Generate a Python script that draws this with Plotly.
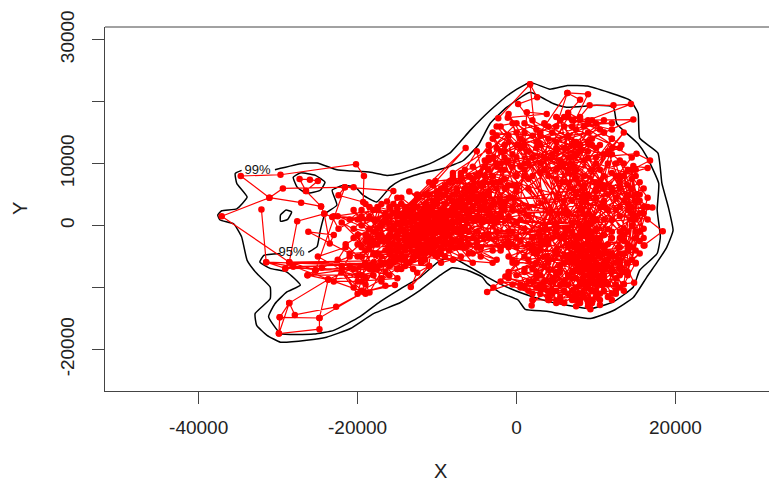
import plotly.graph_objects as go

FONT = "Liberation Sans, Arial, sans-serif"

# 99% home-range contour (open at its label)
outer_x = [-30400,-27000,-25100,-22600,-20700,-18400,-16300,-14700,-10900,-8400,-5800,-3300,-800,1700,4200,6400,8900,14300,15300,15500,17800,18300,19100,19700,18900,17700,16400,14700,12200,9300,6700,3800,1100,200,-2100,-3700,-4300,-6200,-8100,-9600,-12100,-14600,-18000,-20900,-23900,-26400,-29700,-31400,-32700,-32900,-31000,-31000,-32700,-33900,-34600,-35600,-37300,-37600,-37100,-35200,-33900,-35200,-35400,-34600]
outer_y = [9000,10000,10100,9000,8800,8600,8100,8400,10000,11700,15400,18600,21300,23100,22000,22600,22500,20200,18100,14100,11700,6800,3000,-800,-3500,-5900,-8300,-11600,-13700,-15000,-14500,-13800,-13500,-12000,-10800,-9300,-8300,-7200,-6800,-8000,-10400,-12400,-14200,-16600,-18000,-18500,-18800,-17700,-16100,-14200,-11800,-9900,-7700,-5600,-1800,300,900,1700,2400,2700,4600,6800,8400,8900]

# 95% home-range contour (open at its label)
inner_x = [-26200,-25100,-24700,-24100,-22600,-23200,-21800,-20300,-19300,-17600,-15900,-14600,-12100,-9200,-6700,-4800,-3300,-1200,1700,4600,6300,10100,12200,12600,13400,15300,16400,17900,17700,18100,17700,15500,14700,12200,9300,4200,900,-2100,-3700,-7900,-9600,-12100,-14600,-17200,-19700,-23000,-25500,-29700,-31200,-30400,-28900,-27200,-28900,-31000,-32300,-31800,-29700]
inner_y = [-4300,-3400,-800,1900,3300,5700,6500,6200,4900,3800,6200,7300,8400,9200,10500,13000,16500,19100,21500,19700,19100,19400,19100,16500,15400,13200,11100,6800,2500,-1800,-4500,-7200,-9900,-12300,-13400,-12300,-11000,-9400,-8300,-5300,-5600,-8300,-10200,-12300,-14700,-16900,-17500,-17400,-14700,-12600,-10700,-9600,-7500,-6900,-5900,-4800,-4500]

island_x = [-28100,-27200,-25300,-24100,-24700,-26400,-27600,-28100]
island_y = [7800,8500,8100,7000,5700,5200,6200,7800]
hole_x = [-29700,-29000,-28300,-28800,-29700,-29700]
hole_y = [1700,2500,2200,1000,700,1700]

# relocation track, west end
west_x = [-32100,-31500,-25300,-28600,-37100,-31100,-34700,-29700,-20200,-19200,-19300,-22400,-21600,-20500,-29400,-31100,-27100,-24600,-26500,-27300,-26000,-25000,-26500,-24600,-24200,-27600,-28600,-28100,-29100,-31500,-18000,-26200,-23000,-23500,-24200,-23200,-22400,-16300,-15500,-21600,-25300,-26300,-23700,-28600,-29900,-29800,-28600,-27900,-22700,-19200,-23700,-24800,-24800,-29900,-29800,-24800,-19200,-16500,-15300,-19200]
west_y = [2600,-5900,-7200,-5900,1500,4500,8000,8200,9900,8000,3800,4900,6200,6200,6000,4500,3700,3100,5600,7500,7400,7200,5600,3100,1900,700,-5900,-6600,-6900,-5900,-6500,-1000,-1500,-2900,1900,1400,-500,3900,5600,6200,-7200,-8000,-8700,-12500,-17400,-14800,-12500,-14400,-13100,-10700,-8700,-14900,-16700,-17400,-14800,-14900,-10700,-9700,-9600,-10700]

west2_x = [-28100,-16000,-28600,-14000,-29100,-15000,-25300,-17000,-26300,-18000,-23700,-19000,-22000,-20000,-24500,-21000,-23000,-19500,-25000,-21500,-22500,-20500,-19000,-22000,-20000]
west2_y = [-6600,-6200,-5900,-5600,-6900,-7000,-7200,-6300,-8000,-8000,-8700,-6000,-6500,-8000,-6800,-5000,-9000,-9000,-5000,-3500,-5500,-10000,-11000,-7500,-11000]

west3_x = [-17000,-19500,-15000,-18000,-20500,-16000,-14500,-19000,-17500,-20000,-15500,-18500,-16500,-14000,-19500,-17000,-15000,-20500,-18000,-16000,-14500,-19000,-15500,-17500,-20000,-16500,-18500,-14000,-19500,-15000]
west3_y = [3500,0,3000,-2500,2500,-3500,500,3500,-1500,-3000,3500,-500,2000,-1000,1500,0,-2000,-500,2500,1500,-3500,-1500,-500,1000,1000,-2500,3000,1500,-3500,4500]

# relocation track, neck of the range
neck_x = [-19000,-12000,-17500,-8000,-15500,-6000,-18000,-10500,-14000,-4500,-16500,-9000,-13000,-7000,-11500,
          -19500,-13500,-6500,-16000,-11000,-3500,-17000,-12500,-8500,-14500,-5500,-18500,-10000,-15000,-7500,
          -16500,-9500,-14000,-2500,-12000,-17500,-6500,-13000,-10500,-19000,-5000,-15500,-8000,-11500,-3000,
          -18000,-7000,-14500,-9000,-16000,-4000,-12500,-11000,-17000,-6000,-13500,-8500,-15000,-10000,-2000,
          -11500,-18500,-9500,-13000,-5500,-16500,-7500,-14000,-3500,-12000,-17500,-10500,-15500,-8000,-19500,
          -13000,-6500,-15000,-9000,-11500,-4500,-16000,-10000,-7000,-14500,-12500,-5500,-17000,-8500,-13500,
          -10500,-15500,-12000,-8000,-18000,-6000,-13000,-9500,-16500,-11000,-7500,-14000,-4000,-12500,-9000,
          -21500,-20000,-18500,-17000,-20500,-19000,-21000,-16000,-19500,-18000,-20000,-17500,-21000,-15500,-18500,
          -19000,-17000,-20500,-16000,-22500,-18000,-19500,-21000,-16500,-23000,-17500,-20000,-15000,-22000,-18500,
          -11000,-12500,-13300,-11000,-10200,-14000,-6400,-13000]
neck_y = [-6500,1500,-3000,4000,-5000,5500,-1000,-4000,2500,6500,-7500,1000,-2000,-3500,3500,
          -8000,-6000,3000,-500,5000,2000,-8500,0,-1500,4500,-4500,1500,-2500,-7000,6000,
          1000,2500,-3500,7000,-5500,3000,-500,3500,6500,-2500,1000,-6000,-2500,500,-6000,
          -4500,7500,1500,-5000,3000,4000,-1000,-6500,-6000,-3000,5500,2000,-1500,3500,-3500,
          -3000,-3500,5000,1000,-2000,-4000,1500,-4000,9000,2000,-7000,-500,2000,8000,-5000,
          -5000,6000,-3500,3500,-1500,3000,-6500,1000,-5000,-500,4500,-6000,-1500,-4000,2500,
          -2000,0,-6000,500,-6000,1500,-500,-3500,-2500,2500,-1000,-6500,-1500,-3000,6500,
          -3000,-5000,-3000,-9000,-7000,-8500,-6500,-8000,-10500,-7000,-1500,-500,-4500,-4000,-10800,
          -9500,-5000,-2000,-2000,1500,1000,2500,1000,500,1500,2500,-9000,-8500,500,-2000,
          -6500,-7600,-9900,-6500,7200,3000,12500,3000]

neck2_x = [-16000,-4000,-14500,-2500,-12000,-6000,-15000,-3500,-13000,-5000,-11000,-1500,-9500,-16500,-7000,
           -12500,-3000,-10000,-5500,-8000,-14000,-2000,-11000,-7500,-15500,-4500,-9000,-13500,-1000,-6500,
           -10000,-17000,-7000,-12000,-4000,-9000,-14500,-3000,-11500,-6000,-13000,-2500,-8500,-16000,-5000,
           -15000,-9500,-13500,-7000,-12000,-3500,-16500,-8000,-10500,-4500,-14000,-6000,-11000,-2000,-12500,
           -18000,-14000,-16500,-12000,-17500,-10500,-15000,-11500,-19000,-13000,-16000,-9000,-18500,-11000,-14500,
           -8000,-13500,-9500,-11000,-6500,-12500,-7500,-10000,-5500,-13000,-8500,-11500,-3000,-10500,-7000,
           -13500,-12000,-14500,-10000,-15000,-11000,-16000,-9000,-13000,-7500,-12500,-8500,-14000,-9500,-11500]
neck2_y = [-1500,9500,-4500,6000,-3500,2500,1500,-1500,-5500,8000,7000,-3000,-6000,1000,-2500,
           3000,11000,-1000,5500,-3500,500,9000,-2500,3500,-3000,-3500,5000,-1500,-1000,-3500,
           -5000,-2500,1000,-1000,7000,-500,-5500,3500,5000,8000,1500,-5500,-3000,-4500,4500,
           -1000,6000,-3000,4500,-4500,5000,-2500,-5500,3000,1000,2000,-1000,500,1500,-2000,
           -3000,-1500,-6000,-500,-4500,-3000,-5500,-4500,-4000,-7000,-3000,-2000,-7000,-3500,-7000,
           3000,-2500,-4500,1500,5000,-4000,-3500,2000,3000,-1500,4500,-5500,1000,4000,7500,
           500,-3000,3500,-4500,2500,-1000,500,-3000,2500,-2500,1500,-500,-2500,1500,1500]

# relocation track, between neck and lobe
mid_x = [-8000,-2000,-6000,0,-4000,-7000,1000,-3000,-5000,-1000,-8500,-2500,-6500,500,-3500,
         -5500,-500,-7500,-1500,-4500,-9000,-2000,-6000,1500,-3000,-8000,-1000,-5000,0,-7000,
         -4000,-6500,-1500,-8500,-3500,-500,-5500,-2500,-7500,1000,-4500,-1000,-6000,-2000,-3000,
         -5000,-7000,-500,-4000,-2500,-6000,-1000,-8000,-3500,-1500,-5500,0,-4500,-7000,-2000,
         -3000,-5000,-1000,-6500,-2500,-4000,-9000,-1500,-5500,-3500,-7500,-500,-6000,-2000,-4500]
mid_y = [2000,4000,6000,-2000,1000,8500,8000,-4000,-1000,6500,7000,10000,1000,1000,13000,
         9500,3000,3000,11000,-5000,2500,1500,4500,1500,8000,5000,-2500,-3500,6000,-1500,
         10500,-500,13000,-1500,5500,-1000,6500,-1000,5500,-500,2500,4500,-4500,-4000,1500,
         12000,8000,4500,3000,12500,6000,14500,8500,-2000,9000,1000,500,-3500,3500,3500,
         7000,-2500,10500,9000,500,9500,-3000,2500,7500,11000,-1000,6500,1500,-3500,5000]

# relocation track, long moves between neck and lobe
bridge_x = [-13000,6000,-11000,9000,-14000,4000,-9000,10000,-12000,7000,-15000,3000,-10000,8000,-16000,
            11000,-12500,5000,-8000,12000,-14500,9000,-11500,6500,-10000,4500,-13500,8500,-7000,2000]
bridge_y = [-1000,-1500,2000,0,-3500,-3000,6000,1000,-4500,500,500,-4000,-2500,-2000,-2000,
            4000,5000,-1000,7500,-1000,3500,-500,2500,2000,5500,-2000,1500,6000,-1000,-3500]

# relocation track, east lobe
lobe_x = [9000,1000,11000,-2000,7500,13000,4000,10000,-1000,12000,6000,14000,3000,8500,-3000,
          10500,2000,7000,12500,0,9500,5000,14500,-2500,8000,11500,3500,6500,13500,1000,
          9000,-1500,11000,4500,15000,7500,2500,10000,12500,5500,-500,8500,14000,3000,6500,
          10000,1500,8000,13000,-2000,11500,6000,9500,4000,15500,7000,12000,0,10500,5000,
          8500,14500,2500,11000,6500,-1000,9000,12500,3500,7500,16000,10000,1000,13500,5500,
          9500,11500,8000,13000,10500,7000,12000,9000,14000,6000,11000,8500,10000,7500,12500,
          -3000,4500,9500,1500,13500,6000,-1500,11000,3000,8000,15000,500,10000,5500,12000,
          9000,10500,8000,11500,9500,7000,10000,12000,8500,11000,7500,13000,9000,6500,10500,
          -4000,2000,7000,-500,5000,10000,-2500,3500,8000,0,6000,11500,-3500,1500,9000,
          14000,15500,13000,16500,14500,15000,13500,16000,12500,15500,14000,16500,13000,15000,14500,
          10000,8500,9500,11000,7500,12000,8000,10500,9000,6000,11500,7000,12500,9500,8500,
          5000,3000,1000,6500,4000,-1000,2500,7000,500,5500,2000,-2000,3500,6000,1500,
          4000,9000,6000,11000,2000,7500,13000,3500,8500,1000,10000,5000,12000,-500,7000,
          -2000,-1000,0,-3000,-500,1000,-1500,500,2000,-2500,1500,-3500,0,2500,-1000,
          13000,14000,12000,15000,13500,14500,12500,11500,15500,13000,14000,12000,15000,11000,13500,
          9000,7000,11000,8000,10000,12000,6000,9500,7500,10500,8500,11500,6500,9000,10000,
          8500,9500,9000,10000,8000,10500,9000,9500,8500,10000,9000,8000,9500,10500,8500]
lobe_y = [-5000,9000,-9000,12000,-11000,6000,-6000,-500,-8000,14000,-2000,-6000,13000,-8000,8000,
          3000,-4000,11000,-11000,15000,-12500,7500,1000,-1000,-6000,10000,-9000,-3500,-2500,-7000,
          13500,3500,-3500,11500,-4000,-8500,15500,-10500,2500,-11500,-3000,6500,9000,-1500,14500,
          -7000,6000,-12000,-8000,16000,-600,-9500,1500,-10500,5000,-4500,-12000,11000,-12800,-500,
          16000,11000,-8500,8000,-5500,18000,-2500,-5000,-3000,9000,3000,-9000,13000,-1500,17000,
          -3500,-6500,-1000,-10000,-11000,-7500,-2000,-10000,-4000,-12500,1000,-4000,-6000,-10000,-8500,
          11000,15000,9000,12000,4000,12500,7500,15000,10000,2500,8000,14000,5500,9500,11500,
          -8000,-2000,-6500,-4500,-12000,-3000,-9500,-7000,-1500,-10500,-5500,-3500,-13000,-8000,-5000,
          5000,-2000,4000,-5500,-7500,7000,14500,16500,13000,6500,16000,5000,2500,-10500,11000,
          -1000,2000,1500,1000,6000,-2000,8000,-500,4500,7000,-7500,4500,10500,4000,-3500,
          -4000,-9000,-6500,-8000,-2000,-11000,-11000,-8500,-3000,-9000,-3000,-12000,-6000,-7500,-6000,
          -4000,-8000,-10000,-700,-2500,-5000,-6000,-10500,-2500,-9500,-11000,-9000,-10000,-1500,-3000,
          14000,15000,10000,17000,8000,15500,12500,9000,10500,16500,12500,17500,15500,9500,13000,
          10000,13500,8000,14000,11500,15000,6000,12500,11000,9500,7500,12000,16500,13500,1500,
          -5500,-8000,-7500,-6000,-9500,0,-10500,-9500,-4500,-7000,-3000,-4500,1000,-6000,-500,
          5000,6000,3000,0,4500,1000,2000,500,7500,6500,4000,2500,8500,-500,-2500,
          -7000,-5000,-10000,-8000,-4500,-6500,-6000,-9000,-11500,-3500,-12000,-9500,-2000,-9500,-5000]

lobe2_x = [4000,-1000,9500,2000,12000,6000,-2000,14000,3000,10000,7000,0,13000,5000,11000,
           8000,1000,12500,4000,9000,-500,11000,6500,13500,2500,7500,15000,5500,10500,0,
           9000,11000,8500,12000,7500,10000,13000,9500,8000,11500,7000,10500,12500,6000,9000,
           7000,5000,3000,8500,6000,4000,9500,1500,7500,5500,2500,10000,0,6500,3500,
           11000,13000,12000,14500,11500,13500,10500,15500,12500,14000,11000,16000,13000,15000,12000,
           4500,2000,6000,3000,7000,500,5000,1500,8000,-1000,6500,2500,9000,3500,5500,
           15000,14500,16000,13500,15500,14000,16500,14500,15000,13000,15500,14000,16000,14500,13500,
           -2500,-500,1000,-3500,500,-1500,2000,-3000,0,3000,-2000,1500,-4000,-500,2500,
           8000,6000,9500,5000,10500,7000,12000,4000,11000,3000,9000,2000,7500,13500,6000,
           10000,9000,11000,8000,10500,9500,8500,11500,7500,10000,9000,11000,8000,9500,10500]
lobe2_y = [-5500,-3500,14000,-7000,12500,-9000,2000,6500,-9500,10000,-6000,-8000,3000,12500,6000,
           12000,-5000,8000,-11500,2000,2500,-1500,11000,-10500,-4500,13500,1500,-6500,13000,-3500,
           -1000,-4500,-9500,-5000,-11500,-7500,-6500,-10500,-3500,-11500,-1000,-3000,-9500,-5000,-12500,
           9500,9000,8500,8000,7000,8000,13000,10000,11500,10500,12500,16500,13000,17500,11000,
           6500,6500,8500,2000,12000,10000,9000,-2500,10000,3500,3000,6000,-2000,9000,5500,
           -8500,-9000,-6000,-3500,-8500,-9500,-10500,-5500,-4000,-7500,-11000,-10000,-7000,-5000,-2000,
           5000,7500,2000,-4500,-1000,2500,3000,-5500,-1000,7500,4000,5000,-2000,9000,-7500,
           16000,16500,10000,10500,9500,12000,14500,15000,5500,-2500,7000,3000,8000,-6000,-6000,
           17500,17500,17000,13500,15500,17000,16500,16000,11500,14500,12000,17000,5000,15000,4000,
           -11500,-7000,-9500,-7500,-4500,-1000,-3000,-5500,-7000,-2000,-9000,-1500,-12500,-4000,-12000]

# relocation track, southern side of the lobe
low_x = [500,3000,5500,1500,4000,7000,2500,6000,-500,4500,1000,5000,3500,6500,2000,7500,5500,3000,-1000,4500]
low_y = [-10000,-11000,-12000,-9000,-12000,-11500,-7500,-10500,-9500,-9000,-7500,-12500,-6500,-9500,-12000,-12000,-7500,-9500,-8500,-11000]

# relocation track, points along the rim of the east lobe
rim_x = [1700,-2300,1700,2600,200,3000,6400,5000,8000,6400,9000,7000,9200,12200,14400,9000,14700,11000,6500,9000,12000,
         13200,10000,15100,16800,13000,16500,14700,12000,17100,14500,18400,16000,16100,13000,15000,13000,14800,13500,11000,
         13000,9300,9000,7500,8000,5500,4100,5000,1900,2500,-3700,-2900,-1400,0,1300,3800,-1100,5000]
rim_y = [22800,17300,22800,20700,19600,15000,21400,16000,20300,21400,21200,16000,19400,19400,19600,17000,17100,15000,18200,16500,14000,
         13000,11000,11600,10500,8000,9300,9600,6000,2900,3000,-900,-3200,-3200,-1000,-6100,-4500,-9200,-9400,-7000,
         -6000,-13500,-9000,-13000,-9000,-12200,-12000,-8000,-12900,-8000,-10700,-10000,-8200,-6000,18300,18000,17400,12000]

track_x = west_x + west2_x + west3_x + neck_x + neck2_x + mid_x + bridge_x + lobe_x + lobe2_x + low_x + rim_x
track_y = west_y + west2_y + west3_y + neck_y + neck2_y + mid_y + bridge_y + lobe_y + lobe2_y + low_y + rim_y

# axis ticks
x_ticks = [-40000, -20000, 0, 20000]
x_labels = ["-40000", "-20000", "0", "20000"]
y_ticks = [-20000, -10000, 0, 10000, 20000, 30000]
y_labels = ["-20000", "", "0", "10000", "", "30000"]

# contour labels
label_x = [-32600, -28300]
label_y = [8900, -4300]
label_text = ["99%", "95%"]

fig = go.Figure()
for cx, cy in [(outer_x, outer_y), (inner_x, inner_y), (island_x, island_y), (hole_x, hole_y)]:
    fig.add_trace(go.Scatter(x=cx, y=cy, mode="lines", hoverinfo="skip",
                             line=dict(color="black", width=1.5, shape="spline", smoothing=0.4)))
fig.add_trace(go.Scatter(x=track_x, y=track_y, mode="lines+markers",
                         line=dict(color="#ff0000", width=1.2),
                         marker=dict(color="#ff0000", size=6.5)))
fig.add_trace(go.Scatter(x=label_x, y=label_y, mode="text", text=label_text,
                         textfont=dict(family=FONT, size=13, color="#111111"), hoverinfo="skip"))

axis_color = "#444444"
fig.update_layout(
    width=769, height=485, showlegend=False,
    margin=dict(l=105, r=0, t=27, b=94),
    paper_bgcolor="white", plot_bgcolor="white",
    font=dict(family=FONT, size=19, color="#222222"),
    xaxis=dict(range=[-51786, 31774], tickmode="array", tickvals=x_ticks, ticktext=x_labels,
               ticks="outside", ticklen=12, tickwidth=1, tickcolor=axis_color,
               showgrid=False, zeroline=False, showline=True, linecolor=axis_color, linewidth=1,
               ticklabelstandoff=7),
    yaxis=dict(range=[-26677, 32032], tickmode="array", tickvals=y_ticks, ticktext=y_labels,
               tickangle=-90, ticks="outside", ticklen=12, tickwidth=1, tickcolor=axis_color,
               showgrid=False, zeroline=False, showline=True, linecolor=axis_color, linewidth=1,
               ticklabelstandoff=10),
    shapes=[dict(type="line", xref="paper", yref="paper", x0=0, x1=1, y0=1, y1=1,
                 line=dict(color=axis_color, width=1))],
    annotations=[
        dict(text="X", xref="paper", yref="paper", x=0.5053, y=-0.256, showarrow=False,
             xanchor="center", yanchor="bottom",
             font=dict(family=FONT, size=20, color="#222222")),
        dict(text="Y", textangle=-90, xref="paper", yref="paper", x=-0.128, y=0.5, showarrow=False,
             xanchor="center", yanchor="middle",
             font=dict(family=FONT, size=20, color="#222222")),
    ],
)
fig.write_html("out.html", config={"displayModeBar": False},
               post_script="document.body.style.margin='0';document.body.style.overflow='hidden';")
